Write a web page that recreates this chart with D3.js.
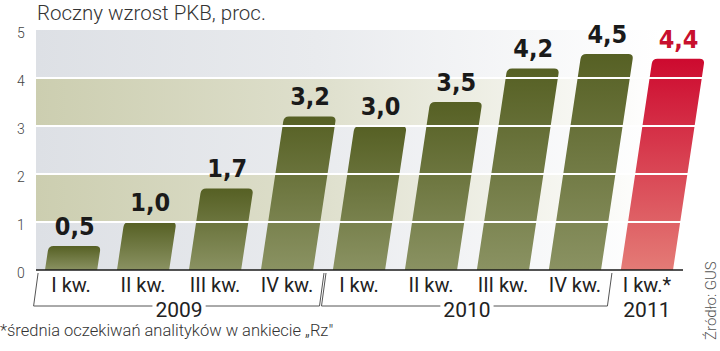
<!DOCTYPE html>
<html>
<head>
<meta charset="utf-8">
<script src="https://cdn.jsdelivr.net/npm/d3@7"></script>
<style>
    body { margin: 0; background: #fff; }
    svg { display: block; }
    .title { font-family: Roboto, sans-serif; font-weight: 300; font-size: 20.5px; fill: #333; }
    .y-label { font-family: Roboto, sans-serif; font-weight: 300; font-size: 14px; fill: #444; }
    .value-label { font-family: "DejaVu Sans Condensed", "DejaVu Sans", sans-serif; font-stretch: condensed; font-weight: bold; font-size: 25px; fill: #1a1a1a; }
    .cat-label { font-family: Roboto, sans-serif; font-weight: 400; font-size: 20px; fill: #222; }
    .year-label { font-family: Roboto, sans-serif; font-weight: 400; font-size: 21px; fill: #222; }
    .note { font-family: Roboto, sans-serif; font-weight: 300; font-size: 16.5px; fill: #333; }
    .source { font-family: Roboto, sans-serif; font-weight: 300; font-size: 15px; fill: #555; }
</style>
</head>
<body>
<div id="chart"></div>
<script>
// Data
var quarters = ["I kw.", "II kw.", "III kw.", "IV kw.", "I kw.", "II kw.", "III kw.", "IV kw.", "I kw.*"];
var growth = [0.5, 1.0, 1.7, 3.2, 3.0, 3.5, 4.2, 4.5, 4.4];
var forecast = [false, false, false, false, false, false, false, false, true];
var yearNames = ["2009", "2010", "2011"];
var yearFirstBar = [0, 4, 8];
var yearLastBar = [3, 7, 8];
var yTicks = [0, 1, 2, 3, 4, 5];

var width = 720,
    height = 351;

var svg = d3.select("#chart").append("svg")
    .attr("width", width)
    .attr("height", height);

var defs = svg.append("defs");

// Scales
var x = d3.scaleBand()
    .domain(d3.range(growth.length))
    .range([36, 682])
    .paddingInner(0.275)
    .paddingOuter(0.125);

var y = d3.scaleLinear()
    .domain([0, 5])
    .range([270, 30]);

var slant = 0.15;
var plotLeft = 36;

// Gradients for the background bands and the bars
function hGradient(id, color) {
    var g = defs.append("linearGradient")
        .attr("id", id)
        .attr("gradientUnits", "userSpaceOnUse")
        .attr("x1", plotLeft).attr("x2", 660)
        .attr("y1", 0).attr("y2", 0);
    g.append("stop").attr("offset", "0%").attr("stop-color", color);
    g.append("stop").attr("offset", "45%").attr("stop-color", d3.interpolateRgb(color, "#fff")(0.35));
    g.append("stop").attr("offset", "100%").attr("stop-color", "#fff");
}
hGradient("band-grey", "#dde0e5");
hGradient("band-olive", "#ccceb0");

function vGradient(id, top, bottom) {
    var g = defs.append("linearGradient")
        .attr("id", id)
        .attr("x1", 0).attr("x2", 0)
        .attr("y1", 0).attr("y2", 1);
    g.append("stop").attr("offset", "0%").attr("stop-color", top);
    g.append("stop").attr("offset", "100%").attr("stop-color", bottom);
}
vGradient("bar-olive", "#566024", "#8a9262");
vGradient("bar-red", "#cd0a2f", "#e47b76");

// Background bands
svg.append("g")
    .attr("class", "bands")
    .selectAll("rect")
    .data(d3.range(5))
    .enter()
    .append("rect")
    .attr("x", plotLeft)
    .attr("y", function(d) { return y(d + 1); })
    .attr("width", 660 - plotLeft)
    .attr("height", function(d) { return y(d) - y(d + 1); })
    .attr("fill", function(d) { return d % 2 === 1 ? "url(#band-olive)" : "url(#band-grey)"; });

// Bars - drawn upright then skewed so the tops lean to the right
var bw = x.bandwidth(),
    r = 5;

var barGroup = svg.append("g")
    .attr("class", "bars")
    .attr("transform", "translate(0," + y(0) + ") skewX(" + (-Math.atan(slant) * 180 / Math.PI) + ")");

barGroup.selectAll("path")
    .data(growth)
    .enter()
    .append("path")
    .attr("d", function(d, i) {
        var x0 = x(i), x1 = x0 + bw, t = y(d) - y(0);
        return "M" + x0 + ",0" +
            "L" + x0 + "," + (t + r) +
            "Q" + x0 + "," + t + " " + (x0 + r) + "," + t +
            "L" + (x1 - r) + "," + t +
            "Q" + x1 + "," + t + " " + x1 + "," + (t + r) +
            "L" + x1 + ",0Z";
    })
    .attr("fill", function(d, i) { return forecast[i] ? "url(#bar-red)" : "url(#bar-olive)"; });

// White gridlines over everything
svg.append("g")
    .attr("class", "grid")
    .selectAll("line")
    .data(yTicks.filter(function(d) { return d > 0 && d < 5; }))
    .enter()
    .append("line")
    .attr("x1", plotLeft)
    .attr("x2", 710)
    .attr("y1", function(d) { return y(d); })
    .attr("y2", function(d) { return y(d); })
    .attr("stroke", "#fff")
    .attr("stroke-width", 2);

// Zero line
svg.append("line")
    .attr("x1", plotLeft)
    .attr("x2", 683)
    .attr("y1", y(0))
    .attr("y2", y(0))
    .attr("stroke", "#1a1a1a")
    .attr("stroke-width", 1.5);

// Y labels
svg.append("g")
    .selectAll("text")
    .data(yTicks)
    .enter()
    .append("text")
    .attr("class", "y-label")
    .attr("x", 21)
    .attr("y", function(d) { return y(d) + 8; })
    .attr("text-anchor", "middle")
    .text(function(d) { return d; });

// Value labels above the (leaning) bar tops
var fmt = function(v) { return d3.format(".1f")(v).replace(".", ","); };

svg.append("g")
    .selectAll("text")
    .data(growth)
    .enter()
    .append("text")
    .attr("class", "value-label")
    .attr("x", function(d, i) { return x(i) + bw / 2 + slant * (y(0) - y(d)); })
    .attr("y", function(d) { return y(d) - 11; })
    .attr("text-anchor", "middle")
    .style("fill", function(d, i) { return forecast[i] ? "#c8102e" : null; })
    .text(fmt);

// Quarter labels
svg.append("g")
    .selectAll("text")
    .data(quarters)
    .enter()
    .append("text")
    .attr("class", "cat-label")
    .attr("x", function(d, i) { return x(i) + bw / 2; })
    .attr("y", 292)
    .attr("text-anchor", "middle")
    .text(function(d) { return d; });

// Years and their brackets
var gap = x.step() - bw,
    lineY = 306,
    slashTop = 273;

yearNames.forEach(function(name, k) {
    var left = x(yearFirstBar[k]),
        right = x(yearLastBar[k]) + bw,
        cx = (left + right) / 2;

    var label = svg.append("text")
        .attr("class", "year-label")
        .attr("x", cx)
        .attr("y", 317)
        .attr("text-anchor", "middle")
        .text(name);

    if (yearFirstBar[k] === yearLastBar[k]) return;

    var tw = label.node().getComputedTextLength(),
        bL = left - gap / 2 + 1,
        bR = right + gap / 2 - 1;

    svg.append("path")
        .attr("d",
            "M" + (bL + 2) + "," + slashTop +
            "L" + (bL - 2.5) + "," + lineY +
            "L" + (cx - tw / 2 - 3) + "," + lineY +
            "M" + (cx + tw / 2 + 3) + "," + lineY +
            "L" + (bR - 2.5) + "," + lineY +
            "L" + (bR + 2) + "," + slashTop)
        .attr("fill", "none")
        .attr("stroke", "#555")
        .attr("stroke-width", 1);
});

// Title, footnote, source
svg.append("text")
    .attr("class", "title")
    .attr("x", 37)
    .attr("y", 20)
    .text("Roczny wzrost PKB, proc.");

svg.append("text")
    .attr("class", "note")
    .attr("x", 0)
    .attr("y", 336)
    .text("*średnia oczekiwań analityków w ankiecie „Rz\"");

svg.append("text")
    .attr("class", "source")
    .attr("transform", "translate(716,340) rotate(-90)")
    .text("Źródło: GUS");
</script>
</body>
</html>
